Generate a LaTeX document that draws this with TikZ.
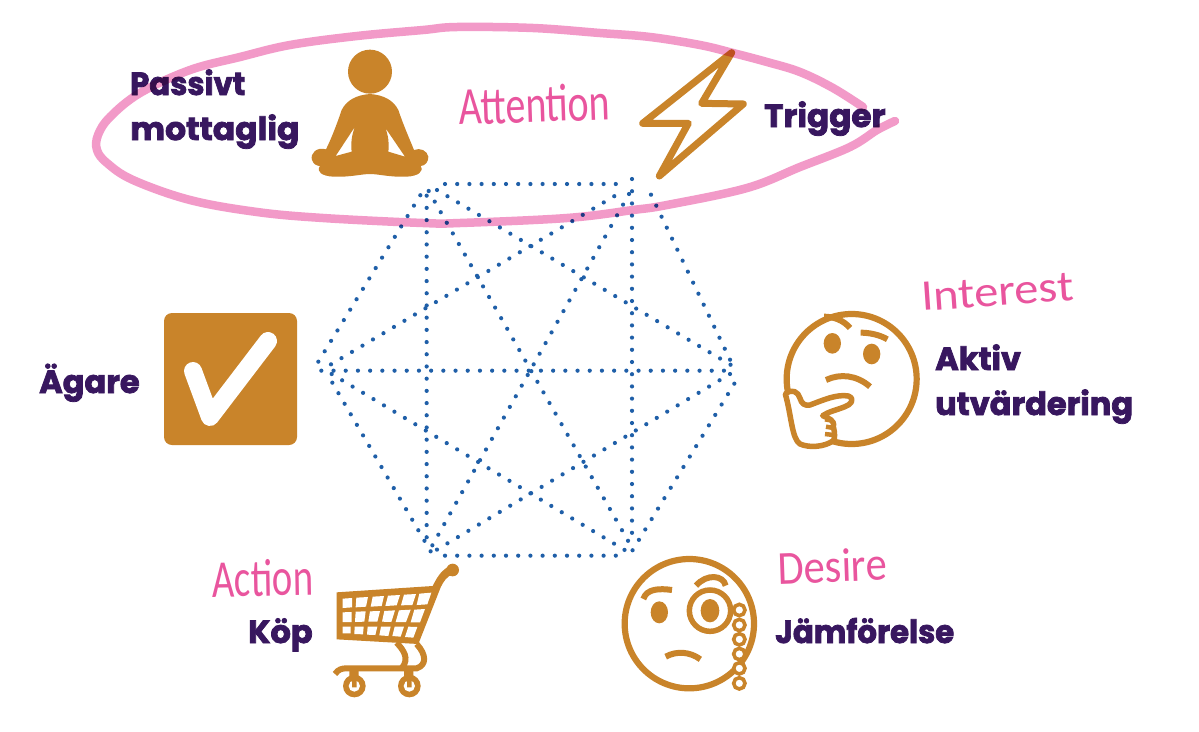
\documentclass[tikz,border=0pt]{standalone}
\usepackage{fontspec}
\usepackage{tikz}
\usetikzlibrary{calc}
\setmainfont{Liberation Sans}
\newfontfamily\headfont[BoldFeatures={FakeBold=2.4}]{Poppins}
\newfontfamily\handfont{Carlito}
\definecolor{ochre}{HTML}{C9842A}
\definecolor{plum}{HTML}{38175F}
\definecolor{rose}{HTML}{E9559E}
\definecolor{halo}{HTML}{F29AC8}
\definecolor{dotblue}{HTML}{1F5FA8}
\tikzset{
  x=1pt,y=-1pt,
  head/.style={anchor=base west,inner sep=0pt,text=plum,font=\headfont\bfseries\fontsize{32}{32}\selectfont},
  hand/.style={anchor=base west,inner sep=0pt,text=rose,font=\handfont\fontsize{38}{38}\selectfont},
  dots/.style={draw=dotblue,line width=4.2pt,line cap=round,dash pattern=on 0pt off 12.2pt},
  zoomed/.style={x=0.33333pt,y=-0.33333pt},
  ol/.style={draw=ochre,line width=7pt,line join=round,line cap=round},
  facering/.style={draw=ochre,line width=6.2pt},
  feature/.style={draw=ochre,line width=6pt},
}
\begin{document}
\begin{tikzpicture}
\useasboundingbox (0,0) rectangle (1199,731);
\fill[white] (0,0) rectangle (1199,731);
% dotted hexagon
\begin{scope}[shift={(300,170)},zoomed]
\coordinate (ab1) at (435,42); \coordinate (ab2) at (950,42);
\coordinate (bc1) at (1053,74); \coordinate (bc2) at (1291,571);
\coordinate (cd1) at (1303,641); \coordinate (cd2) at (997,1142);
\coordinate (de1) at (435,1157); \coordinate (de2) at (950,1157);
\coordinate (ef1) at (97,638); \coordinate (ef2) at (393,1146);
\coordinate (fa1) at (55,575); \coordinate (fa2) at (362,74);
\coordinate (fc1) at (64,602); \coordinate (fc2) at (1274,602);
\coordinate (ae1) at (380,77); \coordinate (ae2) at (380,1103);
\coordinate (bd1) at (996,27); \coordinate (bd2) at (996,1090);
\coordinate (ac1) at (411,60); \coordinate (ac2) at (1293,585);
\coordinate (ad1) at (386,63); \coordinate (ad2) at (1001,1142);
\coordinate (be1) at (987,72); \coordinate (be2) at (396,1128);
\coordinate (fb1) at (93,583); \coordinate (fb2) at (974,60);
\coordinate (fd1) at (95,612); \coordinate (fd2) at (974,1140);
\coordinate (ce1) at (1290,612); \coordinate (ce2) at (409,1140);
\foreach \p/\q in {ab1/ab2,bc1/bc2,cd1/cd2,de1/de2,ef1/ef2,fa1/fa2,fc1/fc2,ae1/ae2,bd1/bd2,ac1/ac2,ad1/ad2,be1/be2,fb1/fb2,fd1/fd2,ce1/ce2}
  \draw[dots] (\p) -- (\q);
\end{scope}
% meditating figure
\begin{scope}[shift={(90,20)},zoomed]
\fill[ochre] (840,155) circle (66);
\fill[ochre,even odd rule]
  (840,222) .. controls (800,225) and (770,240) .. (755,270)
  .. controls (740,315) and (722,360) .. (708,388)
  .. controls (680,380) and (660,400) .. (666,420)
  .. controls (670,432) and (680,438) .. (690,438)
  .. controls (678,455) and (695,468) .. (730,470)
  .. controls (780,472) and (815,462) .. (840,462)
  .. controls (865,462) and (900,472) .. (950,470)
  .. controls (985,468) and (1002,455) .. (992,438)
  .. controls (1005,438) and (1016,425) .. (1015,410)
  .. controls (1012,392) and (990,382) .. (972,390)
  .. controls (960,360) and (940,315) .. (925,270)
  .. controls (910,240) and (880,225) .. (840,222) -- cycle
  (795,320) -- (737,408) -- (785,395) .. controls (782,370) and (785,345) .. (795,320) -- cycle
  (887,325) -- (945,410) -- (895,395) .. controls (898,370) and (895,350) .. (887,325) -- cycle;
\end{scope}
% lightning
\begin{scope}[shift={(500,20)},zoomed]
\draw[ol] (695,98) -- (428,310) -- (565,310) -- (478,468) -- (730,252) -- (605,250) -- cycle;
\end{scope}
% check box
\fill[ochre,rounded corners=8pt] (164,313) rectangle (297,445);
\draw[white,line width=18pt,line cap=round,line join=round] (193,371) -- (210,417) -- (268,341);
% thinking face
\begin{scope}[shift={(770,270)},zoomed]
\draw[facering] (245,327) circle (195);
\fill[ochre] (187,220) ellipse (26 and 31);
\fill[ochre] (305,252) ellipse (26 and 31);
\draw[feature] (162,140) .. controls (190,140) and (220,150) .. (240,174);
\draw[feature] (272,188) .. controls (300,188) and (330,195) .. (352,208);
\draw[feature] (168,330) .. controls (210,310) and (260,315) .. (300,350);
\draw[ol,line width=5.5pt,fill=white] (46,372) .. controls (65,355) and (85,365) .. (90,385)
  .. controls (95,402) and (105,408) .. (120,405)
  .. controls (160,390) and (200,372) .. (235,378)
  .. controls (258,388) and (240,405) .. (225,410)
  .. controls (200,420) and (175,425) .. (158,437)
  .. controls (175,445) and (195,450) .. (190,470)
  .. controls (195,490) and (195,505) .. (190,512)
  .. controls (165,530) and (120,535) .. (90,522)
  .. controls (65,505) and (65,440) .. (46,372) -- cycle;
\draw[ochre,line width=4.5pt] (165,448) -- (188,452) (168,470) -- (190,474) (165,492) -- (190,495);
\end{scope}
% monocle face
\begin{scope}[shift={(600,540)},zoomed]
\draw[facering] (268,251) circle (194);
\fill[ochre] (178,217) ellipse (26 and 33);
\draw[ochre,line width=5.5pt,fill=white] (330,212) circle (62);
\fill[ochre] (330,212) ellipse (28 and 35);
\draw[feature] (130,177) .. controls (140,145) and (180,145) .. (216,150);
\draw[feature] (288,137) .. controls (320,100) and (370,105) .. (377,137);
\draw[feature] (197,350) .. controls (230,332) and (270,335) .. (301,358);
\foreach \y in {210,255,298,342,385,430}
  \draw[ochre,line width=3.6pt,fill=white] (418,\y) circle (17);
\end{scope}
% cart
\begin{scope}[shift={(200,550)},zoomed]
\fill[ochre] (758,60) circle (19);
\fill[ochre] (410,127) -- (698,108) .. controls (710,85) and (720,65) .. (745,50) -- (758,72) .. controls (740,80) and (730,95) .. (722,112) -- (655,282) -- (410,268) -- cycle;
\fill[white]
 (428,146) -- (456,144) -- (456,172) -- (428,174) -- cycle
 (469,143) -- (504,141) -- (498,170) -- (467,172) -- cycle
 (518,140) -- (552,138) -- (545,168) -- (512,170) -- cycle
 (564,137) -- (600,135) -- (590,166) -- (556,168) -- cycle
 (612,134) -- (648,132) -- (637,165) -- (603,166) -- cycle
 (658,131) -- (694,128) -- (682,163) -- (650,165) -- cycle
 (428,187) -- (455,186) -- (455,216) -- (428,216) -- cycle
 (467,185) -- (497,184) -- (493,215) -- (465,216) -- cycle
 (510,184) -- (540,183) -- (532,215) -- (505,215) -- cycle
 (553,183) -- (585,181) -- (574,216) -- (546,215) -- cycle
 (597,181) -- (632,179) -- (618,216) -- (587,216) -- cycle
 (643,179) -- (675,177) -- (660,217) -- (632,217) -- cycle
 (428,230) -- (452,230) -- (452,250) -- (428,250) -- cycle
 (464,230) -- (491,230) -- (489,253) -- (463,252) -- cycle
 (503,230) -- (532,230) -- (526,255) -- (501,254) -- cycle
 (543,230) -- (572,230) -- (565,258) -- (538,256) -- cycle
 (584,230) -- (612,230) -- (602,260) -- (577,258) -- cycle
 (625,230) -- (652,231) -- (640,263) -- (615,261) -- cycle;
\draw[ochre,line width=6pt] (405,372) .. controls (415,358) and (425,355) .. (440,355) -- (650,355)
   .. controls (680,345) and (680,315) .. (650,282);
\draw[ochre,line width=6pt] (590,278) .. controls (610,300) and (630,325) .. (605,355);
\fill[ochre] (448,360) rectangle (476,395) (612,360) rectangle (640,395);
\fill[ochre] (463,408) circle (34) (628,408) circle (34);
\fill[white] (463,408) circle (17) (628,408) circle (17);
\fill[ochre] (456,380) rectangle (470,412) (621,380) rectangle (635,412);
\end{scope}
% labels
\node[head,xscale=.96] (passivt) at (130,95) {Passivt};
\node[head,xscale=1.03] (mottaglig) at (130,140) {mottaglig};
\node[head,xscale=1.02] (trigger) at (764,127) {Trigger};
\node[head] (agare) at (39,393) {Ägare};
\node[head] (aktiv) at (935,370) {Aktiv};
\node[head] (utv) at (935,415) {utvärdering};
\node[head] (kop) at (248,643) {Köp};
\node[head,xscale=.96] (jam) at (775,643) {Jämförelse};
\node[hand,rotate=2,xscale=1.05,yscale=1.4] (att) at (459,125) {Attention};
\node[hand,rotate=4,xscale=1.28,yscale=1.15] (int) at (922,311) {Interest};
\node[hand,rotate=2,xscale=1.12,yscale=1.25] (des) at (778,584) {Desire};
\node[hand,rotate=1,xscale=1.02,yscale=1.4] (act) at (212,597) {Action};
% pink loop
\begin{scope}[blend mode=multiply]
\draw[halo,line width=8.5pt,line cap=round,line join=round] plot[smooth,tension=0.6] coordinates {
 (863,107) (833,88) (800,72) (767,62) (733,53) (700,45) (650,37) (600,33) (533,28) (457,27) (423,30) (357,36) (290,45) (240,57) (190,70) (140,93) (110,117) (98,135) (97,150) (107,163) (133,180) (190,200) (257,212) (323,218) (423,223) (460,223) (567,218) (633,210) (667,205) (747,188) (800,167) (850,147) (877,130) (895,121)};
\end{scope}
\end{tikzpicture}
\end{document}
